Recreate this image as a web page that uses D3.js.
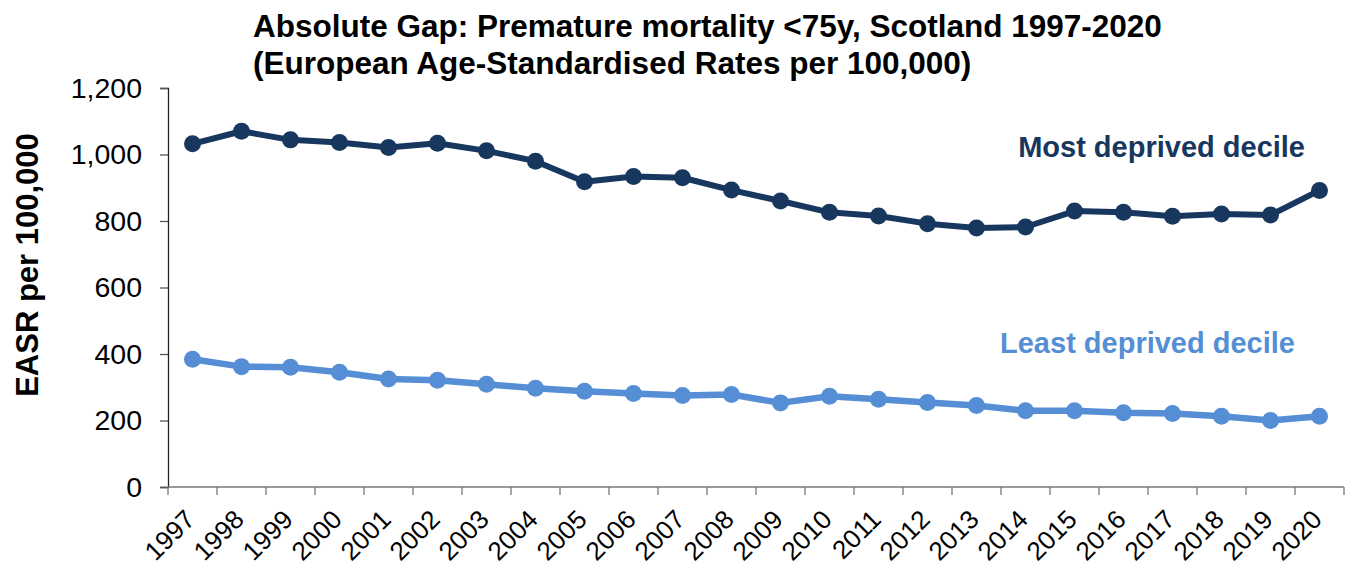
<!DOCTYPE html>
<html>
<head>
<meta charset="utf-8">
<script src="https://cdn.jsdelivr.net/npm/d3@7"></script>
<style>
  body { margin: 0; background: #fff; }
  svg { display: block; font-family: "Liberation Sans", Arial, sans-serif; }
</style>
</head>
<body>
<div id="graf"></div>
<script>
// data
const years = ['1997', '1998', '1999', '2000', '2001', '2002', '2003', '2004', '2005', '2006', '2007', '2008',
  '2009', '2010', '2011', '2012', '2013', '2014', '2015', '2016', '2017', '2018', '2019', '2020']
const mostDeprived = [1032, 1070, 1044, 1036, 1021, 1034, 1011, 980, 918, 934, 930, 893,
  860, 826, 815, 792, 779, 782, 830, 826, 814, 821, 818, 892]
const leastDeprived = [384, 362, 360, 345, 325, 321, 309, 297, 288, 281, 275, 278,
  253, 273, 264, 254, 245, 229, 229, 223, 221, 213, 200, 213]
const yTicks = [0, 200, 400, 600, 800, 1000, 1200]

const anchoTotal = 1356
const altoTotal = 566
const margin = { top: 88, bottom: 79, left: 168, right: 12 }
const ancho = anchoTotal - margin.left - margin.right
const alto = altoTotal - margin.top - margin.bottom

const colorMost = '#17375E'
const colorLeast = '#558ED5'

const svg = d3.select('#graf')
  .append('svg')
  .attr('width', anchoTotal)
  .attr('height', altoTotal)

const g = svg.append('g')
  .attr('transform', `translate(${margin.left}, ${margin.top})`)

const x = d3.scaleBand()
  .domain(years)
  .range([0, ancho])
  .padding(0)

const y = d3.scaleLinear()
  .domain([0, 1200])
  .range([alto, 0])

// y axis
const yAxis = g.append('g')
  .call(d3.axisLeft(y).tickValues(yTicks).tickFormat(d3.format(',')).tickSize(8).tickPadding(18))
yAxis.select('.domain').attr('stroke', '#222').attr('stroke-width', 1.3)
yAxis.selectAll('.tick line').attr('stroke', '#555').attr('stroke-width', 1.3)
yAxis.selectAll('text')
  .attr('font-size', 28.5)
  .attr('fill', '#000')
  .attr('font-family', '"Liberation Sans", Arial, sans-serif')

// x axis: ticks on band edges, labels rotated
const xAxis = g.append('g').attr('transform', `translate(0, ${alto})`)
xAxis.append('line')
  .attr('x1', 0).attr('x2', ancho)
  .attr('stroke', '#777').attr('stroke-width', 1.3)
xAxis.selectAll('line.tk')
  .data(years.concat(['end']))
  .enter()
  .append('line')
  .attr('class', 'tk')
  .attr('x1', d => d === 'end' ? ancho : x(d))
  .attr('x2', d => d === 'end' ? ancho : x(d))
  .attr('y1', 0).attr('y2', 8)
  .attr('stroke', '#777').attr('stroke-width', 1.3)
xAxis.selectAll('text')
  .data(years)
  .enter()
  .append('text')
  .attr('transform', d => `translate(${x(d) + x.bandwidth() / 2 + 4}, 34) rotate(-45)`)
  .attr('text-anchor', 'end')
  .attr('font-size', 26)
  .attr('fill', '#000')
  .text(d => d)

// lines + markers
const linea = data => d3.line()
  .x((d, i) => x(years[i]) + x.bandwidth() / 2)
  .y(d => y(d))(data)

const series = [
  { valores: leastDeprived, color: colorLeast, ancho: 6.5 },
  { valores: mostDeprived, color: colorMost, ancho: 6 },
]

series.forEach(s => {
  g.append('path')
    .attr('d', linea(s.valores))
    .attr('fill', 'none')
    .attr('stroke', s.color)
    .attr('stroke-width', s.ancho)
    .attr('stroke-linejoin', 'round')
  g.selectAll(null)
    .data(s.valores)
    .enter()
    .append('circle')
    .attr('cx', (d, i) => x(years[i]) + x.bandwidth() / 2)
    .attr('cy', d => y(d))
    .attr('r', 8.5)
    .attr('fill', s.color)
})

// series labels
svg.append('text')
  .attr('x', 1305).attr('y', 157)
  .attr('text-anchor', 'end')
  .attr('font-size', 29)
  .attr('font-weight', 'bold')
  .attr('fill', colorMost)
  .text('Most deprived decile')

svg.append('text')
  .attr('x', 1295).attr('y', 353)
  .attr('text-anchor', 'end')
  .attr('font-size', 29)
  .attr('font-weight', 'bold')
  .attr('fill', colorLeast)
  .text('Least deprived decile')

// title
const titulo = svg.append('text')
  .attr('x', 253)
  .attr('font-size', 31.5)
  .attr('font-weight', 'bold')
  .attr('fill', '#000')
titulo.append('tspan').attr('x', 253).attr('y', 37)
  .text('Absolute Gap: Premature mortality <75y, Scotland 1997-2020')
titulo.append('tspan').attr('x', 253).attr('y', 74)
  .text('(European Age-Standardised Rates per 100,000)')

// y axis title
svg.append('text')
  .attr('transform', 'translate(38, 265) rotate(-90)')
  .attr('text-anchor', 'middle')
  .attr('font-size', 31)
  .attr('font-weight', 'bold')
  .attr('fill', '#000')
  .text('EASR per 100,000')
</script>
</body>
</html>
